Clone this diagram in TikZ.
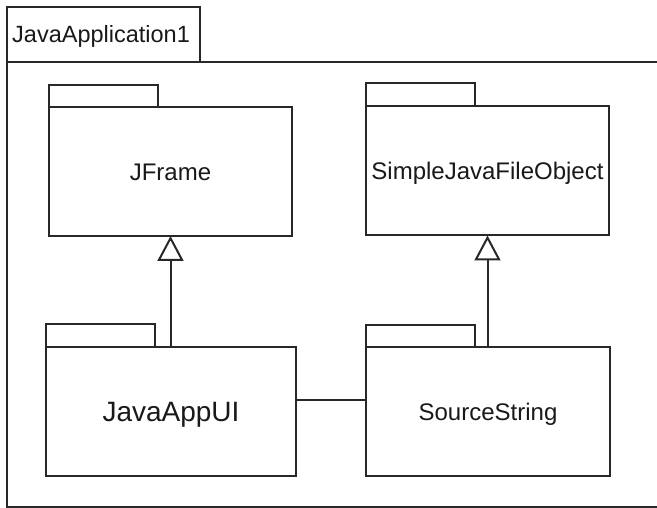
\documentclass[tikz,border=0pt]{standalone}
\usepackage{fontspec}
\setmainfont{Liberation Sans}
\usetikzlibrary{arrows.meta}
\definecolor{ln}{RGB}{40,40,40}
\definecolor{tx}{RGB}{25,25,25}
\tikzset{
  pkgbody/.style={draw=ln, line width=2pt, fill=white, inner sep=0pt, outer sep=0pt,
    minimum height=129pt, text=tx, font=\fontsize{24}{28}\selectfont,
    text height=17.2pt, text depth=0pt, align=center},
  bigtext/.style={font=\fontsize{28}{32}\selectfont, text height=20pt},
  pkgtab/.style={draw=ln, line width=2pt},
  gen/.style={draw=ln, line width=2pt, -{Triangle[open, length=25pt, width=26pt]}},
  assoc/.style={draw=ln, line width=2pt},
  outer/.style={draw=ln, line width=2pt}
}
\begin{document}
\begin{tikzpicture}[x=1pt, y=-1pt]
\useasboundingbox (0,0) rectangle (657,508);
% outer package
\node[pkgtab, inner sep=0pt, outer sep=0pt, minimum width=193pt, minimum height=55pt, anchor=north west] (apptab) at (7,7) {};
\node[anchor=base west, text=tx, font=\fontsize{23.5}{28}\selectfont, inner sep=0pt] (applabel) at (12,43) {JavaApplication1};
\draw[outer] (apptab.south west) -- (7,507.4) -- (720,507.4);
\draw[outer] (apptab.south west) -- (720,62);
% packages
\node[pkgbody, minimum width=243pt] (jf) at (170.5,171.5) {JFrame};
\node[pkgbody, minimum width=243pt] (sj) at (487.5,171) {SimpleJavaFileObject};
\node[pkgbody, bigtext, minimum width=250pt] (ui) at (171,411.5) {JavaAppUI};
\node[pkgbody, minimum width=244pt] (ss) at (488,411.5) {SourceString};
% tabs
\draw[pkgtab] (jf.north west) rectangle ++(109,-22);
\draw[pkgtab] (sj.north west) rectangle ++(109,-23);
\draw[pkgtab] (ui.north west) rectangle ++(109,-23);
\draw[pkgtab] (ss.north west) rectangle ++(109,-22);
% connectors
\draw[gen] (ui.north -| jf.south) -- (jf.south);
\draw[gen] (ss.north -| sj.south) -- (sj.south);
\draw[assoc] ([yshift=11.5pt]ui.east) -- ([yshift=11.5pt]ss.west);
\end{tikzpicture}
\end{document}
